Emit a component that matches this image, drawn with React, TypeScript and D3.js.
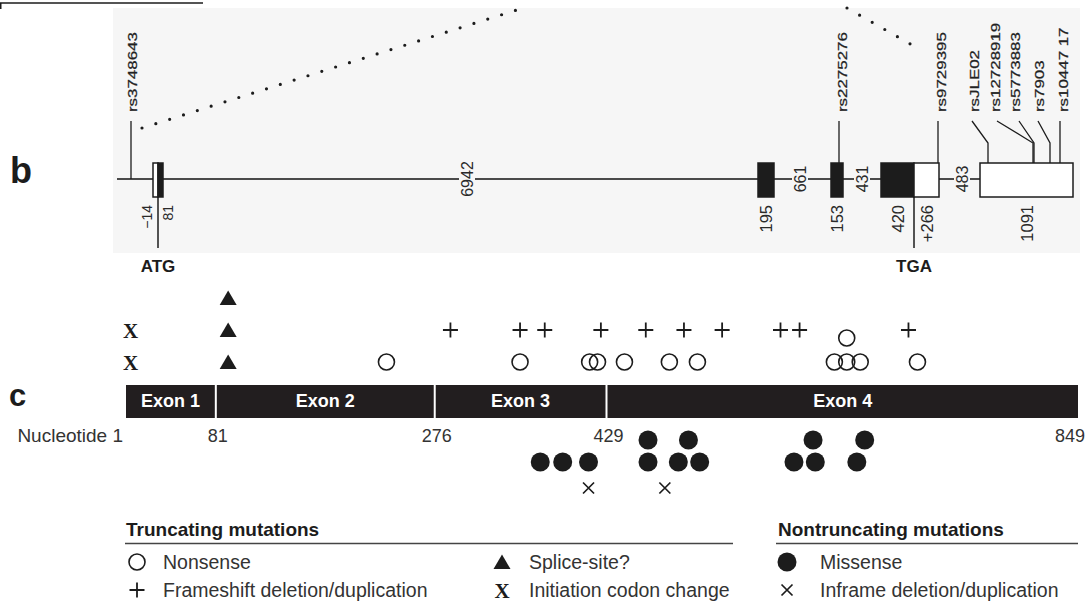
import React from "react";
import * as d3 from "d3";

const W = 1089;
const H = 605;
const SANS = "'Liberation Sans', Arial, Helvetica, sans-serif";
const SERIF = "'Liberation Serif', 'Times New Roman', serif";
const INK = "#1c1c1c";
const PANEL = "#f6f6f6";

// ---- panel b: gene structure (schematic units, not to scale)
const geneSpan = [4, 867];
const geneBoxes = [
  { start: 40, end: 45, coding: false },
  { start: 45, end: 50, coding: true },
  { start: 645, end: 661, coding: true },
  { start: 718, end: 730, coding: true },
  { start: 768, end: 801, coding: true },
  { start: 801, end: 826, coding: false },
  { start: 867, end: 960, coding: false },
];
const exonSizeLabels = [
  { text: "\u221214", at: 34, size: 14 },
  { text: "81", at: 55, size: 14 },
  { text: "195", at: 653, size: 16.5 },
  { text: "153", at: 724, size: 16.5 },
  { text: "420", at: 785, size: 16.5 },
  { text: "+266", at: 814, size: 16.5 },
  { text: "1091", at: 914, size: 16.5 },
];
const intronLabels = [
  { text: "6942", at: 354 },
  { text: "661", at: 687 },
  { text: "431", at: 749 },
  { text: "483", at: 849 },
];
const codonMarks = [
  { text: "ATG", at: 45 },
  { text: "TGA", at: 801 },
];
const snps = [
  { id: "rs3748643", label: 19, top: 18, elbow: 18, toGene: true },
  { id: "rs2275276", label: 729, top: 726, elbow: 726, toGene: false },
  { id: "rs9729395", label: 828, top: 825, elbow: 825, toGene: false },
  { id: "rsJLE02", label: 861, top: 859, elbow: 875, toGene: false },
  { id: "rs12728919", label: 882, top: 884, elbow: 920, toGene: false },
  { id: "rs5773883", label: 902, top: 906, elbow: 921, toGene: false },
  { id: "rs7903", label: 926, top: 925, elbow: 937, toGene: false },
  { id: "rs10447 17", label: 950, top: 947, elbow: 947, toGene: false },
];

// ---- panel c: coding sequence and mutations (nucleotide positions)
const exonNames = ["Exon 1", "Exon 2", "Exon 3", "Exon 4"];
const exonBounds = [1, 81, 276, 429, 849];
const nucleotideTicks = [81, 276, 429, 849];

const nonsense = [
  { pos: 233, level: 0 }, { pos: 352, level: 0 }, { pos: 414, level: 0 },
  { pos: 421, level: 0 }, { pos: 445, level: 0 }, { pos: 485, level: 0 },
  { pos: 510, level: 0 }, { pos: 632, level: 0 }, { pos: 643, level: 0 },
  { pos: 655, level: 0 }, { pos: 706, level: 0 }, { pos: 643, level: 0.75 },
];
const frameshift = [
  { pos: 290, level: 1 }, { pos: 352, level: 1 }, { pos: 374, level: 1 },
  { pos: 424, level: 1 }, { pos: 464, level: 1 }, { pos: 498, level: 1 },
  { pos: 532, level: 1 }, { pos: 584, level: 1 }, { pos: 601, level: 1 },
  { pos: 698, level: 1 },
];
const spliceSite = [
  { pos: 92, level: 0 }, { pos: 92, level: 1 }, { pos: 92, level: 2 },
];
const initiation = [
  { pos: 5, level: 0 }, { pos: 5, level: 1 },
];
const missense = [
  { pos: 370, level: 0 }, { pos: 390, level: 0 }, { pos: 413, level: 0 },
  { pos: 466, level: 0 }, { pos: 493, level: 0 }, { pos: 512, level: 0 },
  { pos: 596, level: 0 }, { pos: 615, level: 0 }, { pos: 652, level: 0 },
  { pos: 466, level: 1 }, { pos: 502, level: 1 }, { pos: 613, level: 1 },
  { pos: 659, level: 1 },
];
const inframe = [{ pos: 413, level: -1 }, { pos: 481, level: -1 }];

const legendTruncating = [
  { sym: "nonsense", text: "Nonsense" },
  { sym: "frameshift", text: "Frameshift deletion/duplication" },
  { sym: "splice", text: "Splice-site?" },
  { sym: "initiation", text: "Initiation codon change" },
];
const legendNontruncating = [
  { sym: "missense", text: "Missense" },
  { sym: "inframe", text: "Inframe deletion/duplication" },
];

const Symbol = ({ type, x, y }: { type: string; x: number; y: number }) => {
  const t = `translate(${x},${y})`;
  if (type === "nonsense")
    return <circle transform={t} r={8} fill="none" stroke={INK} strokeWidth={1.6} />;
  if (type === "frameshift")
    return <path transform={t} d="M-7.5,0H7.5M0,-7.5V7.5" stroke={INK} strokeWidth={1.8} />;
  if (type === "splice")
    return <path transform={t} d="M0,-7.5L8.5,7L-8.5,7Z" fill={INK} />;
  if (type === "initiation")
    return (
      <text transform={t} textAnchor="middle" dy="0.36em" fontFamily={SERIF}
        fontWeight="bold" fontSize={21} fill={INK}>X</text>
    );
  if (type === "missense") return <circle transform={t} r={9.5} fill={INK} />;
  return <path transform={t} d="M-5.5,-5.5L5.5,5.5M-5.5,5.5L5.5,-5.5" stroke={INK} strokeWidth={1.7} />;
};

const App = () => {
  const xb = d3.scaleLinear().domain([0, 976]).range([113, 1089]);
  const xc = d3.scaleLinear().domain([1, 849]).range([126, 1078]);
  const yTrunc = d3.scaleLinear().domain([0, 2]).range([362, 298]);
  const yNon = d3.scaleLinear().domain([0, 1]).range([462, 440]);
  const yInframe = (l: number) => (l < 0 ? 488 : yNon(l));

  const geneY = 179;
  const boxTop = 163;
  const boxBot = 197;
  const dotted = d3.line();

  return (
    <div style={{ position: "absolute", left: 0, top: 0 }}>
      <svg width={W} height={H} style={{ display: "block", background: "#fff" }}>
        {/* stray frame line at the top */}
        <path d="M0.75,9V3H203" fill="none" stroke={INK} strokeWidth={1.5} />

        {/* panel b */}
        <rect x={113} y={8} width={967} height={245} fill={PANEL} />
        <text x={10} y={183} fontFamily={SANS} fontWeight="bold" fontSize={36} fill={INK}>b</text>

        <path d={dotted([[142, 128], [523, 8]]) ?? ""} fill="none" stroke={INK}
          strokeWidth={3.2} strokeLinecap="round" strokeDasharray="0 14.5" />
        <path d={dotted([[847, 8], [912, 45]]) ?? ""} fill="none" stroke={INK}
          strokeWidth={3.2} strokeLinecap="round" strokeDasharray="0 14.5" />

        <line x1={xb(geneSpan[0])} x2={xb(geneSpan[1])} y1={geneY} y2={geneY}
          stroke="#4a4a4a" strokeWidth={2} />

        {intronLabels.map((d) => {
          const half = (d.text.length * 0.556 * 16) / 2 + 3;
          return (
            <g key={d.text}>
              <rect x={xb(d.at) - 8} y={geneY - half} width={16} height={half * 2} fill={PANEL} />
              <text transform={`translate(${xb(d.at)},${geneY}) rotate(-90)`} textAnchor="middle"
                dy="0.36em" fontFamily={SANS} fontSize={16} fill="#2a2a2a">{d.text}</text>
            </g>
          );
        })}

        {codonMarks.map((d) => (
          <g key={d.text}>
            <line x1={xb(d.at)} x2={xb(d.at)} y1={boxBot} y2={248} stroke={INK} strokeWidth={1.5} />
            <text x={xb(d.at)} y={272} textAnchor="middle" fontFamily={SANS} fontWeight="bold"
              fontSize={17} fill={INK}>{d.text}</text>
          </g>
        ))}

        {geneBoxes.map((d, i) => (
          <rect key={i} x={xb(d.start)} y={boxTop} width={xb(d.end) - xb(d.start)}
            height={boxBot - boxTop} fill={d.coding ? INK : "#fff"} stroke={INK} strokeWidth={1.5} />
        ))}

        {exonSizeLabels.map((d) => (
          <text key={d.text} transform={`translate(${xb(d.at)},205) rotate(-90)`} textAnchor="end"
            dy="0.36em" fontFamily={SANS} fontSize={d.size} fill="#2a2a2a">{d.text}</text>
        ))}

        {snps.map((d) => (
          <g key={d.id}>
            <path
              d={d3.line()([[xb(d.top), 121], [xb(d.elbow), d.top === d.elbow ? 121 : 143],
                [xb(d.elbow), d.toGene ? geneY : boxTop]]) ?? ""}
              fill="none" stroke={INK} strokeWidth={1.3} />
            <text transform={`translate(${xb(d.label)},112) rotate(-90) scale(1.3,1)`}
              dy="0.36em" fontFamily={SANS} fontSize={13} fill="#222"
              stroke="#222" strokeWidth={0.25}>{d.id}</text>
          </g>
        ))}

        {/* panel c */}
        <text x={9} y={406} fontFamily={SANS} fontWeight="bold" fontSize={31} fill={INK}>c</text>

        {exonNames.map((name, i) => {
          const x0 = xc(exonBounds[i]) + (i === 0 ? 0 : 1);
          const x1 = xc(exonBounds[i + 1]) - (i === exonNames.length - 1 ? 0 : 1);
          return (
            <g key={name}>
              <rect x={x0} y={385} width={x1 - x0} height={33} fill="#221e1f" />
              <text x={(x0 + x1) / 2} y={407} textAnchor="middle" fontFamily={SANS}
                fontWeight="bold" fontSize={18} fill="#fff">{name}</text>
            </g>
          );
        })}

        <text x={xc(1) - 3} y={442} textAnchor="end" fontFamily={SANS} fontSize={19} fill="#333">
          Nucleotide 1
        </text>
        {nucleotideTicks.map((n, i) => (
          <text key={n} x={i === nucleotideTicks.length - 1 ? xc(n) + 7 : xc(n) + 2} y={442}
            textAnchor={i === nucleotideTicks.length - 1 ? "end" : "middle"}
            fontFamily={SANS} fontSize={18} fill="#333">{n}</text>
        ))}

        {initiation.map((d, i) => <Symbol key={"x" + i} type="initiation" x={xc(d.pos)} y={yTrunc(d.level)} />)}
        {spliceSite.map((d, i) => <Symbol key={"s" + i} type="splice" x={xc(d.pos)} y={yTrunc(d.level)} />)}
        {frameshift.map((d, i) => <Symbol key={"f" + i} type="frameshift" x={xc(d.pos)} y={yTrunc(d.level)} />)}
        {nonsense.map((d, i) => <Symbol key={"n" + i} type="nonsense" x={xc(d.pos)} y={yTrunc(d.level)} />)}
        {missense.map((d, i) => <Symbol key={"m" + i} type="missense" x={xc(d.pos)} y={yNon(d.level)} />)}
        {inframe.map((d, i) => <Symbol key={"i" + i} type="inframe" x={xc(d.pos)} y={yInframe(d.level)} />)}

        {/* legend */}
        <text x={126} y={536} fontFamily={SANS} fontWeight="bold" fontSize={19} fill={INK}>
          Truncating mutations
        </text>
        <line x1={125} x2={733} y1={543.5} y2={543.5} stroke="#444" strokeWidth={1.5} />
        <text x={778} y={536} fontFamily={SANS} fontWeight="bold" fontSize={19} fill={INK}>
          Nontruncating mutations
        </text>
        <line x1={776} x2={1078} y1={543.5} y2={543.5} stroke="#444" strokeWidth={1.5} />

        {legendTruncating.map((d, i) => {
          const col = Math.floor(i / 2);
          const row = i % 2;
          const sx = col === 0 ? 137 : 502;
          const tx = col === 0 ? 163 : 529;
          const y = 562 + row * 28;
          return (
            <g key={d.text}>
              <Symbol type={d.sym} x={sx} y={y} />
              <text x={tx} y={y + 7} fontFamily={SANS} fontSize={19.5} fill="#333">{d.text}</text>
            </g>
          );
        })}
        {legendNontruncating.map((d, i) => {
          const y = 562 + i * 28;
          return (
            <g key={d.text}>
              <Symbol type={d.sym} x={787} y={y} />
              <text x={820} y={y + 7} fontFamily={SANS} fontSize={19.5} fill="#333">{d.text}</text>
            </g>
          );
        })}
      </svg>
    </div>
  );
};

export default App;
